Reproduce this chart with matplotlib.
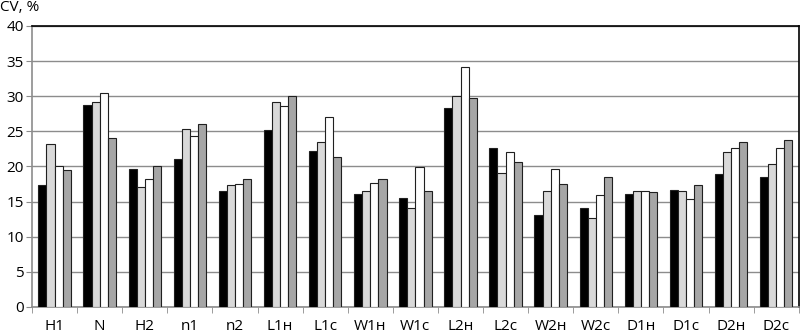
"""
CV by trait, four grouped series
"""
import numpy as np
import matplotlib.pyplot as plt
from matplotlib.ticker import FixedLocator

plt.rcParams['font.family'] = ['Open Sans', 'DejaVu Sans']

categories = ['H1', 'N', 'H2', 'n1', 'n2', 'L1н', 'L1с', 'W1н', 'W1с',
              'L2н', 'L2с', 'W2н', 'W2с', 'D1н', 'D1с', 'D2н', 'D2с']
series_1 = [17.3, 28.8, 19.7, 21.1, 16.5, 25.2, 22.2, 16.1, 15.5,
            28.3, 22.6, 13.1, 14.1, 16.1, 16.7, 18.9, 18.5]
series_2 = [23.2, 29.2, 17.1, 25.3, 17.4, 29.2, 23.5, 16.5, 14.1,
            30.0, 19.0, 16.5, 12.7, 16.5, 16.5, 22.0, 20.4]
series_3 = [20.1, 30.4, 18.2, 24.3, 17.5, 28.6, 27.1, 17.7, 19.9,
            34.1, 22.0, 19.7, 16.0, 16.5, 15.4, 22.6, 22.6]
series_4 = [19.5, 24.1, 20.0, 26.0, 18.2, 30.0, 21.4, 18.2, 16.5,
            29.8, 20.7, 17.5, 18.5, 16.3, 17.3, 23.5, 23.8]

all_series = [series_1, series_2, series_3, series_4]
colors = ['#000000', '#d9d9d9', '#ffffff', '#a6a6a6']

fig = plt.figure(figsize=(8, 3.34), dpi=100)
ax = fig.add_axes([0.04, 0.081, 0.9585, 0.8412])

x = np.arange(len(categories))
width = 0.18
for i, (vals, col) in enumerate(zip(all_series, colors)):
    ax.bar(x + (i - 1.5) * width, vals, width, color=col,
           edgecolor='#202020', linewidth=0.8, zorder=3)

ax.set_xlim(-0.5, len(categories) - 0.5)
ax.set_ylim(0, 40)
ax.set_yticks(range(0, 41, 5))
ax.yaxis.grid(True, color='#8c8c8c', linewidth=1.0, zorder=0)

ax.set_xticks(x)
ax.set_xticklabels(categories, fontsize=11)
ax.tick_params(axis='x', length=0, pad=9)
ax.xaxis.set_minor_locator(FixedLocator(np.arange(-0.5, len(categories), 1)))
ax.tick_params(axis='x', which='minor', length=4, color='#8c8c8c')
ax.tick_params(axis='y', length=4, color='#8c8c8c', labelsize=11, pad=2)

for side in ['left', 'bottom']:
    ax.spines[side].set_color('#8c8c8c')
    ax.spines[side].set_linewidth(1.2)
for side in ['top', 'right']:
    ax.spines[side].set_color('#000000')
    ax.spines[side].set_linewidth(1.2)

fig.text(0.0, 0.999, 'CV, %', fontsize=11, ha='left', va='top')

fig.savefig('out.png', dpi=100)
